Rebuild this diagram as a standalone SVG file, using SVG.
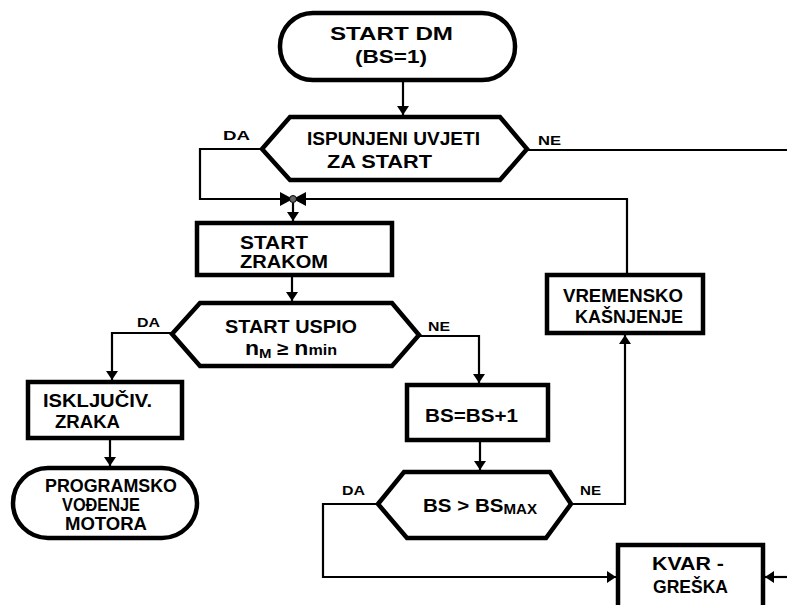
<svg xmlns="http://www.w3.org/2000/svg" width="787" height="605" viewBox="0 0 787 605">
<defs>
<style>
.node{fill:#fff;stroke:#000;stroke-width:4.5;stroke-linejoin:miter}
.conn{fill:none;stroke:#000;stroke-width:2.2}
text{font-family:"Liberation Sans",Arial,sans-serif;font-weight:bold;fill:#000}
.t{font-size:19px}
.l{font-size:13px}
</style>
<marker id="ah" viewBox="0 0 10 10" refX="10" refY="5" markerWidth="9" markerHeight="12" markerUnits="userSpaceOnUse" orient="auto" preserveAspectRatio="none">
<path d="M0,0 L10,5 L0,10 z" fill="#000"/>
</marker>
</defs>
<rect width="787" height="605" fill="#fff"/>

<g id="connectors">
<path class="conn" d="M403,80 V115" marker-end="url(#ah)"/>
<path class="conn" d="M262,149 H200 V199 H293"/>
<path class="conn" d="M627,275 V199 H293"/>
<path d="M280,192 L293,199 L280,206 z M306,192 L293,199 L306,206 z" fill="#000"/>
<circle cx="293" cy="199" r="3.5" fill="#666" stroke="#000" stroke-width="1"/>
<path class="conn" d="M293,203 V221" marker-end="url(#ah)"/>
<path class="conn" d="M527,150 H787"/>
<path class="conn" d="M292,275 V301" marker-end="url(#ah)"/>
<path class="conn" d="M172,333 H112 V380" marker-end="url(#ah)"/>
<path class="conn" d="M418,336 H479 V383" marker-end="url(#ah)"/>
<path class="conn" d="M110,438 V466" marker-end="url(#ah)"/>
<path class="conn" d="M480,440 V470" marker-end="url(#ah)"/>
<path class="conn" d="M378,504 H323 V577 H616" marker-end="url(#ah)"/>
<path class="conn" d="M571,504 H625 V335" marker-end="url(#ah)"/>
<path class="conn" d="M787,577 H765" marker-end="url(#ah)"/>
</g>

<g id="start-dm">
<rect class="node" x="280" y="13" width="235" height="67" rx="33"/>
<text class="t" x="330" y="40" textLength="123" lengthAdjust="spacingAndGlyphs">START  DM</text>
<text class="t" x="355" y="63" textLength="72" lengthAdjust="spacingAndGlyphs">(BS=1)</text>
</g>

<g id="uvjeti">
<polygon class="node" points="262,149 290,117 500,117 527,149 500,180 290,180"/>
<text class="t" x="307" y="145" textLength="173" lengthAdjust="spacingAndGlyphs">ISPUNJENI UVJETI</text>
<text class="t" x="327" y="168" textLength="105" lengthAdjust="spacingAndGlyphs">ZA START</text>
<text class="l" x="223" y="140" textLength="27" lengthAdjust="spacingAndGlyphs">DA</text>
<text class="l" x="538" y="145" textLength="23" lengthAdjust="spacingAndGlyphs">NE</text>
</g>

<g id="start-zrakom">
<rect class="node" x="197" y="223" width="195" height="52"/>
<text class="t" x="240" y="249" textLength="68" lengthAdjust="spacingAndGlyphs">START</text>
<text class="t" x="240" y="268" textLength="88" lengthAdjust="spacingAndGlyphs">ZRAKOM</text>
</g>

<g id="start-uspio">
<polygon class="node" points="172,334 200,303 392,303 419,335 392,366 200,366"/>
<text class="t" x="225" y="333" textLength="132" lengthAdjust="spacingAndGlyphs">START USPIO</text>
<text x="245" y="355" font-size="20" textLength="92" lengthAdjust="spacingAndGlyphs">n<tspan font-size="13" dy="3">M</tspan><tspan dy="-3" font-size="18"> ≥ </tspan>n<tspan font-size="14">min</tspan></text>
<text class="l" x="137" y="327" textLength="23" lengthAdjust="spacingAndGlyphs">DA</text>
<text class="l" x="428" y="331" textLength="22" lengthAdjust="spacingAndGlyphs">NE</text>
</g>

<g id="iskljuciv">
<rect class="node" x="28" y="382" width="154" height="56"/>
<text class="t" x="43" y="407" textLength="109" lengthAdjust="spacingAndGlyphs">ISKLJUČIV.</text>
<text class="t" x="55" y="428" textLength="65" lengthAdjust="spacingAndGlyphs">ZRAKA</text>
</g>

<g id="programsko">
<rect class="node" x="13" y="468" width="184" height="70" rx="35"/>
<text class="t" x="45" y="492" textLength="132" lengthAdjust="spacingAndGlyphs">PROGRAMSKO</text>
<text class="t" x="62" y="511" textLength="78" lengthAdjust="spacingAndGlyphs">VOĐENJE</text>
<text class="t" x="65" y="530" textLength="82" lengthAdjust="spacingAndGlyphs">MOTORA</text>
</g>

<g id="bs-inc">
<rect class="node" x="407" y="385" width="141" height="55"/>
<text class="t" x="425" y="422" textLength="93" lengthAdjust="spacingAndGlyphs">BS=BS+1</text>
</g>

<g id="bs-max">
<polygon class="node" points="378,504 404,472 550,472 571,504 546,538 407,538"/>
<text x="423" y="512" font-size="19" textLength="114" lengthAdjust="spacingAndGlyphs">BS &gt; BS<tspan font-size="14" dy="2">MAX</tspan></text>
<text class="l" x="342" y="495" textLength="23" lengthAdjust="spacingAndGlyphs">DA</text>
<text class="l" x="580" y="495" textLength="21" lengthAdjust="spacingAndGlyphs">NE</text>
</g>

<g id="vremensko">
<rect class="node" x="547" y="275" width="156" height="58"/>
<text class="t" x="563" y="302" textLength="120" lengthAdjust="spacingAndGlyphs">VREMENSKO</text>
<text class="t" x="575" y="323" textLength="108" lengthAdjust="spacingAndGlyphs">KAŠNJENJE</text>
</g>

<g id="kvar">
<rect class="node" x="618" y="545" width="145" height="70"/>
<text class="t" x="652" y="570" textLength="72" lengthAdjust="spacingAndGlyphs">KVAR -</text>
<text class="t" x="653" y="593" textLength="75" lengthAdjust="spacingAndGlyphs">GREŠKA</text>
</g>
</svg>
